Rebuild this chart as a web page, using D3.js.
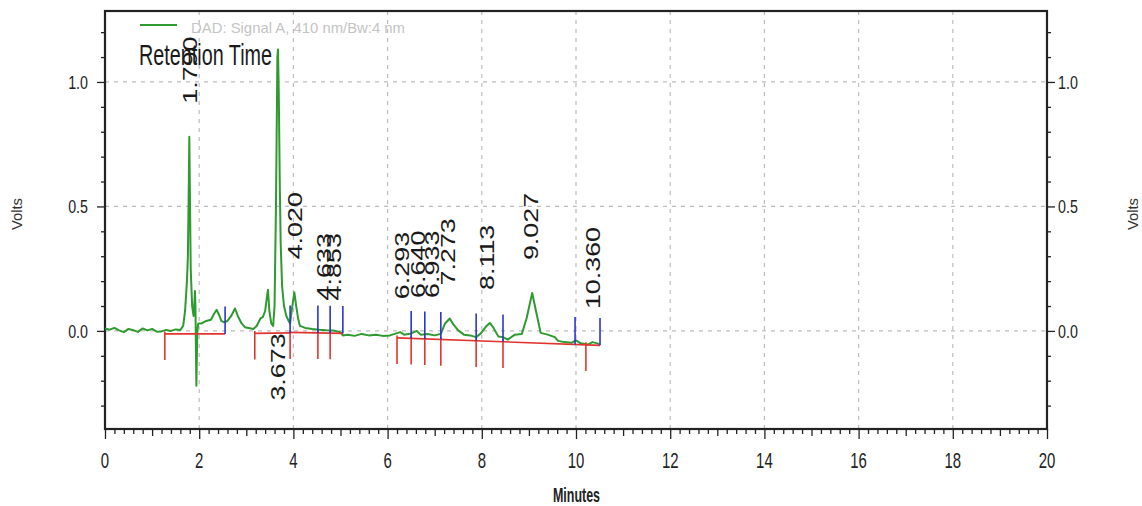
<!DOCTYPE html>
<html><head><meta charset="utf-8">
<script src="https://cdn.jsdelivr.net/npm/d3@7"></script>
<style>body{margin:0;background:#fff}svg{display:block}text{font-family:"Liberation Sans",Arial,sans-serif}</style>
</head><body><svg id="c" width="1142" height="506"></svg>
<script>
// Chromatogram trace (minutes, volts)
const traceT = [0.00,0.10,0.20,0.30,0.40,0.50,0.60,0.70,0.80,0.90,1.00,1.10,1.20,1.30,1.40,1.50,1.60,1.66,1.70,1.74,1.76,1.78,1.79,1.80,1.82,1.85,1.88,1.90,1.91,1.92,1.94,1.96,1.98,2.05,2.15,2.25,2.32,2.37,2.42,2.47,2.52,2.60,2.68,2.76,2.82,2.90,2.97,3.05,3.15,3.22,3.30,3.35,3.40,3.44,3.46,3.49,3.53,3.57,3.60,3.63,3.66,3.673,3.69,3.71,3.73,3.76,3.80,3.85,3.90,3.93,3.97,4.02,4.06,4.10,4.14,4.25,4.40,4.55,4.70,4.85,5.00,5.05,5.15,5.30,5.45,5.60,5.75,5.90,6.05,6.15,6.27,6.35,6.50,6.62,6.70,6.85,7.00,7.13,7.22,7.32,7.40,7.50,7.62,7.75,7.88,7.98,8.10,8.17,8.25,8.35,8.45,8.55,8.70,8.85,8.95,9.07,9.15,9.25,9.40,9.55,9.62,9.75,9.90,10.00,10.10,10.25,10.35,10.45,10.51];
const traceV = [0.010,0.005,0.012,0.002,-0.005,0.008,0.003,-0.004,0.010,0.002,0.008,-0.003,-0.002,0.004,0.000,0.006,0.004,0.020,0.080,0.200,0.300,0.600,0.780,0.600,0.250,0.100,0.060,0.120,0.160,0.100,-0.220,0.000,0.030,0.030,0.040,0.045,0.070,0.085,0.065,0.040,0.035,0.040,0.060,0.090,0.060,0.030,0.015,0.012,0.008,0.020,0.050,0.055,0.080,0.140,0.165,0.080,0.030,0.020,0.100,0.500,1.100,1.130,0.950,0.600,0.350,0.180,0.100,0.060,0.040,0.030,0.090,0.155,0.100,0.050,0.020,0.012,0.008,0.005,0.003,0.002,-0.005,-0.018,-0.015,-0.020,-0.012,-0.018,-0.015,-0.020,-0.018,-0.012,-0.005,-0.015,-0.010,0.000,-0.015,-0.012,-0.018,-0.012,0.030,0.050,0.025,0.002,-0.015,-0.018,-0.025,-0.010,0.020,0.032,0.012,-0.022,-0.025,-0.035,-0.015,-0.012,0.050,0.152,0.080,-0.008,-0.015,-0.025,-0.040,-0.045,-0.048,-0.038,-0.050,-0.055,-0.045,-0.050,-0.055];

// Integration baseline segments
const baseSegT = [[1.27,2.55],[3.18,3.93],[3.93,5.05],[6.20,10.51]];
const baseSegV = [[-0.012,-0.012],[-0.010,-0.008],[-0.006,-0.010],[-0.028,-0.058]];
const startMarks = [1.27,3.18,3.93,4.52,4.78,6.20,6.50,6.79,7.13,7.88,8.45,10.21];
const endMarks = [2.55,3.93,4.52,4.78,5.05,6.50,6.79,7.13,7.88,8.45,9.98,10.51];

// Peak labels
const peakRT = ["1.790","3.673","4.020","4.633","4.853","6.293","6.640","6.933","7.273","8.113","9.027","10.360"];
const peakH = [0.78,1.13,0.155,-0.01,-0.01,-0.005,0.0,0.0,0.05,0.032,0.152,-0.045];
const peakBelow = [false,true,false,false,false,false,false,false,false,false,false,false];

const xTicks = [0,2,4,6,8,10,12,14,16,18,20];
const yTicks = [0.0,0.5,1.0];
const yTickLabels = ["0.0","0.5","1.0"];
const legendLabel = "DAD: Signal A, 410 nm/Bw:4 nm";
const titleLabel = "Retention Time";
const xTitle = "Minutes";
const yTitle = "Volts";

const svg = d3.select("#c");
const L=105, R=1047, T=11, B=429;
const x = d3.scaleLinear().domain([0,20]).range([L,R]);
const y = d3.scaleLinear().domain([-0.394,1.285]).range([B,T]);
const ink = "#222";

// grid
const grid = svg.append("g").attr("stroke","#bdbdbd").attr("stroke-width",1.2).attr("stroke-dasharray","4,5");
xTicks.slice(1,-1).forEach(t=>grid.append("line").attr("x1",x(t)).attr("x2",x(t)).attr("y1",T).attr("y2",B));
yTicks.forEach(v=>grid.append("line").attr("x1",L).attr("x2",R).attr("y1",y(v)).attr("y2",y(v)));

// axes
function styleAxis(g){g.select(".domain").remove();g.selectAll("line").attr("stroke",ink).attr("stroke-width",1.3);g.selectAll("text").remove();}
const minorX = d3.range(0,20.001,0.2).filter(t=>Math.abs(t-Math.round(t))>1e-6);
const oddX = d3.range(1,20,2);
svg.append("g").attr("transform",`translate(0,${B})`).call(d3.axisBottom(x).tickValues(minorX).tickSize(5)).call(styleAxis);
svg.append("g").attr("transform",`translate(0,${B})`).call(d3.axisBottom(x).tickValues(oddX).tickSize(7)).call(styleAxis);
svg.append("g").attr("transform",`translate(0,${B})`).call(d3.axisBottom(x).tickValues(xTicks).tickSize(10)).call(styleAxis);
const minorY = d3.range(-3,13).map(i=>i/10).filter(v=>Math.abs(v*2-Math.round(v*2))>1e-6);
svg.append("g").attr("transform",`translate(${L},0)`).call(d3.axisLeft(y).tickValues(minorY).tickSize(4)).call(styleAxis);
svg.append("g").attr("transform",`translate(${L},0)`).call(d3.axisLeft(y).tickValues(yTicks).tickSize(8)).call(styleAxis);
svg.append("g").attr("transform",`translate(${R},0)`).call(d3.axisRight(y).tickValues(minorY).tickSize(4)).call(styleAxis);
svg.append("g").attr("transform",`translate(${R},0)`).call(d3.axisRight(y).tickValues(yTicks).tickSize(8)).call(styleAxis);

// frame
svg.append("rect").attr("x",L).attr("y",T).attr("width",R-L).attr("height",B-T).attr("fill","none").attr("stroke",ink).attr("stroke-width",2.2);

// tick labels
xTicks.forEach(t=>svg.append("text").attr("transform",`translate(${x(t)},468) scale(0.68,1)`).attr("text-anchor","middle").attr("font-size",22).attr("fill",ink).text(t));
yTicks.forEach((v,i)=>{
  svg.append("text").attr("transform",`translate(88,${y(v)}) scale(0.75,1)`).attr("dy","0.35em").attr("text-anchor","end").attr("font-size",19).attr("fill",ink).text(yTickLabels[i]);
  svg.append("text").attr("transform",`translate(1058,${y(v)}) scale(0.75,1)`).attr("dy","0.35em").attr("text-anchor","start").attr("font-size",19).attr("fill",ink).text(yTickLabels[i]);
});

// axis titles
svg.append("text").attr("x",553).attr("y",502).attr("font-size",21).attr("font-weight","bold").attr("fill",ink).attr("textLength",47).attr("lengthAdjust","spacingAndGlyphs").text(xTitle);
[17,1133].forEach(cx=>svg.append("text").attr("transform",`translate(${cx+5},230) rotate(-90)`).attr("font-size",14).attr("fill","#333").attr("textLength",32).attr("lengthAdjust","spacingAndGlyphs").text(yTitle));

// trace
const pts = traceT.map((t,i)=>[t,traceV[i]]);
const line = d3.line().x(d=>x(d[0])).y(d=>y(d[1]));
svg.append("path").attr("d",line(pts)).attr("fill","none").attr("stroke","#2f9a2f").attr("stroke-width",2).attr("stroke-linejoin","round");

// baseline
function baseAt(t){for(let i=0;i<baseSegT.length;i++){const [a,b]=baseSegT[i];if(t>=a-1e-6&&t<=b+1e-6){const [va,vb]=baseSegV[i];return va+(vb-va)*(t-a)/(b-a);}}return 0;}
baseSegT.forEach((s,i)=>svg.append("line").attr("x1",x(s[0])).attr("x2",x(s[1])).attr("y1",y(baseSegV[i][0])).attr("y2",y(baseSegV[i][1])).attr("stroke","#e0352f").attr("stroke-width",1.6));
startMarks.forEach(t=>{const b=baseAt(t);svg.append("line").attr("x1",x(t)).attr("x2",x(t)).attr("y1",y(b+0.01)).attr("y2",y(b-0.105)).attr("stroke","#e0352f").attr("stroke-width",1.6);});
endMarks.forEach(t=>{const b=baseAt(t);svg.append("line").attr("x1",x(t)).attr("x2",x(t)).attr("y1",y(b)).attr("y2",y(b+0.11)).attr("stroke","#2a35d0").attr("stroke-width",1.6);});

// peak labels
peakRT.forEach((lab,i)=>{
  const px=x(+lab);
  const py = peakBelow[i] ? y(-0.28) : y(peakH[i])-33;
  svg.append("text").attr("transform",`translate(${px},${py}) rotate(-90) scale(1.28,1)`).attr("dy","0.35em").attr("font-size",21).attr("fill","#1a1a1a").text(lab);
});

// legend
svg.append("line").attr("x1",140).attr("x2",177).attr("y1",25).attr("y2",25).attr("stroke","#2f9a2f").attr("stroke-width",2);
svg.append("text").attr("x",191).attr("y",33).attr("font-size",15).attr("fill","#c4c4c4").attr("textLength",214).attr("lengthAdjust","spacingAndGlyphs").text(legendLabel);
svg.append("text").attr("x",139).attr("y",65).attr("font-size",29).attr("fill","#1a1a1a").attr("textLength",133).attr("lengthAdjust","spacingAndGlyphs").text(titleLabel);
</script></body></html>
